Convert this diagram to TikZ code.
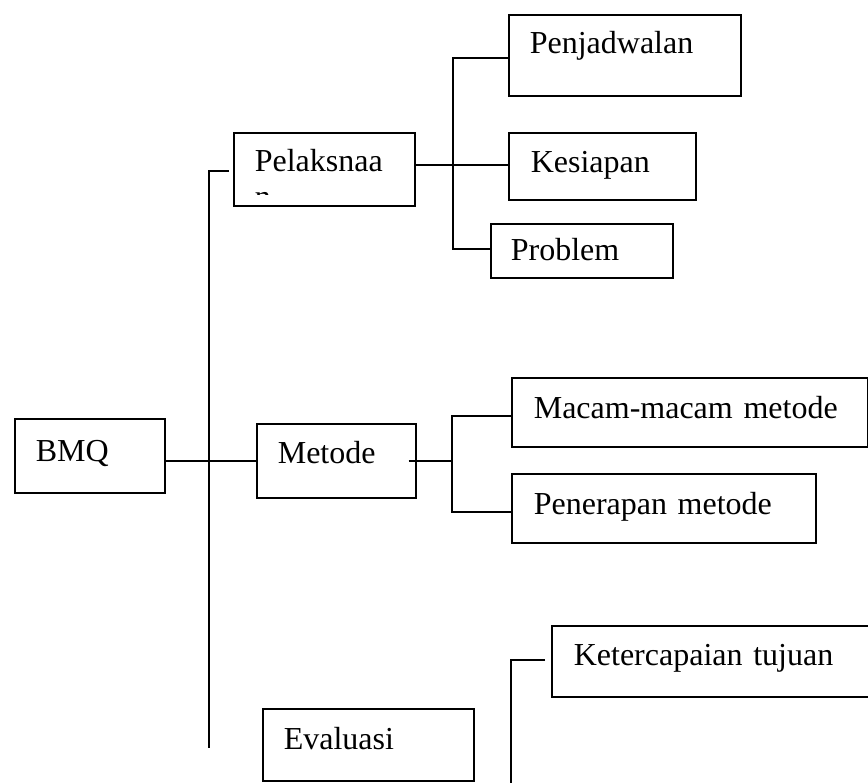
\documentclass[tikz,border=0pt]{standalone}
\usepackage{fontspec}
\setmainfont{Liberation Serif}
\usetikzlibrary{calc}

\begin{document}
\begin{tikzpicture}[x=1pt,y=-1pt,line width=1.6pt,
 bx/.style={draw,rectangle,anchor=north west,inner ysep=0pt,align=left,font=\fontsize{32}{38}\selectfont}]
\useasboundingbox (0,0) rectangle (868,783);
% root
\node[bx,inner xsep=21pt,text width=108pt,text height=43pt,text depth=31pt] (bmq) at (14,418) {BMQ};
% first level
\node[bx,inner xsep=21pt,text width=139pt,text height=39pt,text depth=34pt] (pel) at (233,132) {Pelaksnaa};
\begin{scope}
\clip (233,132) rectangle (414,194.5);
\node[anchor=base west,inner sep=0pt,font=\fontsize{32}{38}\selectfont] (peln) at (254,208) {n};
\end{scope}
\node[bx,inner xsep=21pt,text width=117pt,text height=40pt,text depth=34pt] (met) at (256,423) {Metode};
\node[bx,inner xsep=21pt,text width=169pt,text height=41pt,text depth=31pt] (evl) at (262,708) {Evaluasi};
% second level
\node[bx,inner xsep=21pt,text width=190pt,text height=39pt,text depth=42pt] (pjd) at (508,14) {Penjadwalan};
\node[bx,inner xsep=22pt,text width=143pt,text height=40pt,text depth=27pt] (ksp) at (508,132) {Kesiapan};
\node[bx,inner xsep=20pt,text width=142pt,text height=37pt,text depth=17pt] (prb) at (490,223) {Problem};
\node[bx,inner xsep=22pt,text width=312pt,text height=41pt,text depth=28pt] (mcm) at (511,377) {Macam-macam metode};
\node[bx,inner xsep=22pt,text width=260pt,text height=41pt,text depth=28pt] (pnr) at (511,473) {Penerapan metode};
\node[bx,inner xsep=22pt,text width=285pt,text height=40pt,text depth=31pt] (ktc) at (551,625) {Ketercapaian tujuan};
% joints
\coordinate (s0) at (229,171);
\coordinate (s1) at (209,171);
\coordinate (s2) at (209,748);
\coordinate (b1) at (453,165);
\coordinate (b2) at (452,461);
\coordinate (b3) at (511,660);
\coordinate (b3e) at (545,660);
\coordinate (b3b) at (511,790);
% lines
\draw (s0) -- (s1) -- (s2);
\draw (met.west -| bmq.east) -- (met.west);
\draw (pel.east |- b1) -- (b1) -- (b1 -| ksp.west);
\draw ([yshift=-2.5pt]pjd.west) -| (b1) |- ([yshift=2pt]prb.west);
\draw ([xshift=-8pt]met.east |- b2) -- (b2);
\draw ([yshift=-3.5pt]mcm.west) -| (b2) |- ([yshift=-3.5pt]pnr.west);
\draw (b3e) -- (b3) -- (b3b);
\end{tikzpicture}
\end{document}
